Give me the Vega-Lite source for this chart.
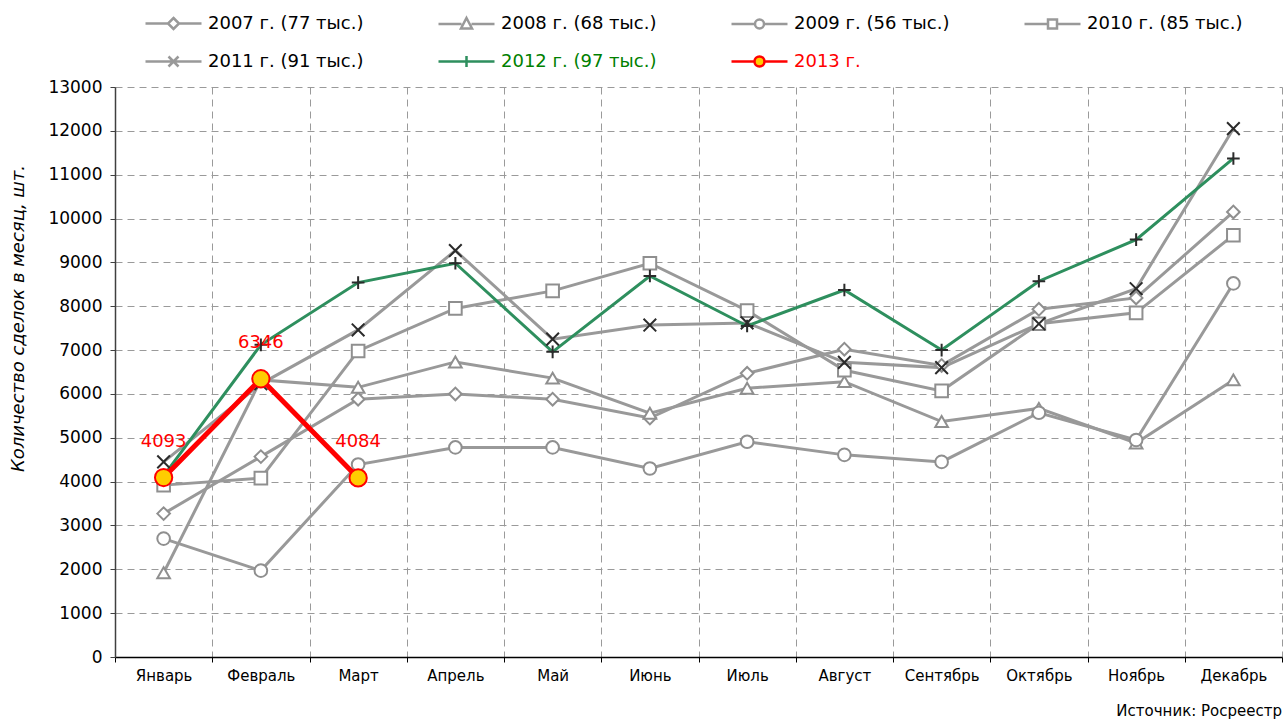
{
  "$schema": "https://vega.github.io/schema/vega-lite/v6.json",
  "width": 1167,
  "height": 570,
  "autosize": {"type": "none"},
  "padding": {"left": 115, "top": 87, "right": 5, "bottom": 63},
  "background": "white",
  "title": {"text": "Источник: Росреестр", "orient": "bottom", "anchor": "end", "frame": "group", "font": "DejaVu Sans", "fontSize": 15, "fontWeight": "normal", "color": "#000000", "offset": 21},
  "config": {"view": {"stroke": null}},
  "data": {"values": [
    {"month": "Январь", "series": "2007 г. (77 тыс.)", "value": 3270},
    {"month": "Февраль", "series": "2007 г. (77 тыс.)", "value": 4570},
    {"month": "Март", "series": "2007 г. (77 тыс.)", "value": 5880},
    {"month": "Апрель", "series": "2007 г. (77 тыс.)", "value": 6000},
    {"month": "Май", "series": "2007 г. (77 тыс.)", "value": 5880},
    {"month": "Июнь", "series": "2007 г. (77 тыс.)", "value": 5450},
    {"month": "Июль", "series": "2007 г. (77 тыс.)", "value": 6470},
    {"month": "Август", "series": "2007 г. (77 тыс.)", "value": 7020},
    {"month": "Сентябрь", "series": "2007 г. (77 тыс.)", "value": 6650},
    {"month": "Октябрь", "series": "2007 г. (77 тыс.)", "value": 7930},
    {"month": "Ноябрь", "series": "2007 г. (77 тыс.)", "value": 8190},
    {"month": "Декабрь", "series": "2007 г. (77 тыс.)", "value": 10150},
    {"month": "Январь", "series": "2008 г. (68 тыс.)", "value": 1920},
    {"month": "Февраль", "series": "2008 г. (68 тыс.)", "value": 6320},
    {"month": "Март", "series": "2008 г. (68 тыс.)", "value": 6150},
    {"month": "Апрель", "series": "2008 г. (68 тыс.)", "value": 6730},
    {"month": "Май", "series": "2008 г. (68 тыс.)", "value": 6360},
    {"month": "Июнь", "series": "2008 г. (68 тыс.)", "value": 5560},
    {"month": "Июль", "series": "2008 г. (68 тыс.)", "value": 6130},
    {"month": "Август", "series": "2008 г. (68 тыс.)", "value": 6280},
    {"month": "Сентябрь", "series": "2008 г. (68 тыс.)", "value": 5370},
    {"month": "Октябрь", "series": "2008 г. (68 тыс.)", "value": 5670},
    {"month": "Ноябрь", "series": "2008 г. (68 тыс.)", "value": 4880},
    {"month": "Декабрь", "series": "2008 г. (68 тыс.)", "value": 6320},
    {"month": "Январь", "series": "2009 г. (56 тыс.)", "value": 2700},
    {"month": "Февраль", "series": "2009 г. (56 тыс.)", "value": 1970},
    {"month": "Март", "series": "2009 г. (56 тыс.)", "value": 4390},
    {"month": "Апрель", "series": "2009 г. (56 тыс.)", "value": 4780},
    {"month": "Май", "series": "2009 г. (56 тыс.)", "value": 4780},
    {"month": "Июнь", "series": "2009 г. (56 тыс.)", "value": 4300},
    {"month": "Июль", "series": "2009 г. (56 тыс.)", "value": 4910},
    {"month": "Август", "series": "2009 г. (56 тыс.)", "value": 4610},
    {"month": "Сентябрь", "series": "2009 г. (56 тыс.)", "value": 4450},
    {"month": "Октябрь", "series": "2009 г. (56 тыс.)", "value": 5570},
    {"month": "Ноябрь", "series": "2009 г. (56 тыс.)", "value": 4950},
    {"month": "Декабрь", "series": "2009 г. (56 тыс.)", "value": 8520},
    {"month": "Январь", "series": "2010 г. (85 тыс.)", "value": 3920},
    {"month": "Февраль", "series": "2010 г. (85 тыс.)", "value": 4080},
    {"month": "Март", "series": "2010 г. (85 тыс.)", "value": 6980},
    {"month": "Апрель", "series": "2010 г. (85 тыс.)", "value": 7950},
    {"month": "Май", "series": "2010 г. (85 тыс.)", "value": 8350},
    {"month": "Июнь", "series": "2010 г. (85 тыс.)", "value": 8980},
    {"month": "Июль", "series": "2010 г. (85 тыс.)", "value": 7900},
    {"month": "Август", "series": "2010 г. (85 тыс.)", "value": 6540},
    {"month": "Сентябрь", "series": "2010 г. (85 тыс.)", "value": 6070},
    {"month": "Октябрь", "series": "2010 г. (85 тыс.)", "value": 7600},
    {"month": "Ноябрь", "series": "2010 г. (85 тыс.)", "value": 7850},
    {"month": "Декабрь", "series": "2010 г. (85 тыс.)", "value": 9620},
    {"month": "Январь", "series": "2011 г. (91 тыс.)", "value": 4450},
    {"month": "Февраль", "series": "2011 г. (91 тыс.)", "value": 6230},
    {"month": "Март", "series": "2011 г. (91 тыс.)", "value": 7460},
    {"month": "Апрель", "series": "2011 г. (91 тыс.)", "value": 9270},
    {"month": "Май", "series": "2011 г. (91 тыс.)", "value": 7250},
    {"month": "Июнь", "series": "2011 г. (91 тыс.)", "value": 7570},
    {"month": "Июль", "series": "2011 г. (91 тыс.)", "value": 7620},
    {"month": "Август", "series": "2011 г. (91 тыс.)", "value": 6720},
    {"month": "Сентябрь", "series": "2011 г. (91 тыс.)", "value": 6600},
    {"month": "Октябрь", "series": "2011 г. (91 тыс.)", "value": 7600},
    {"month": "Ноябрь", "series": "2011 г. (91 тыс.)", "value": 8400},
    {"month": "Декабрь", "series": "2011 г. (91 тыс.)", "value": 12050},
    {"month": "Январь", "series": "2012 г. (97 тыс.)", "value": 4130},
    {"month": "Февраль", "series": "2012 г. (97 тыс.)", "value": 7120},
    {"month": "Март", "series": "2012 г. (97 тыс.)", "value": 8540},
    {"month": "Апрель", "series": "2012 г. (97 тыс.)", "value": 8980},
    {"month": "Май", "series": "2012 г. (97 тыс.)", "value": 6960},
    {"month": "Июнь", "series": "2012 г. (97 тыс.)", "value": 8690},
    {"month": "Июль", "series": "2012 г. (97 тыс.)", "value": 7550},
    {"month": "Август", "series": "2012 г. (97 тыс.)", "value": 8370},
    {"month": "Сентябрь", "series": "2012 г. (97 тыс.)", "value": 7000},
    {"month": "Октябрь", "series": "2012 г. (97 тыс.)", "value": 8570},
    {"month": "Ноябрь", "series": "2012 г. (97 тыс.)", "value": 9520},
    {"month": "Декабрь", "series": "2012 г. (97 тыс.)", "value": 11370},
    {"month": "Январь", "series": "2013 г.", "value": 4093},
    {"month": "Февраль", "series": "2013 г.", "value": 6346},
    {"month": "Март", "series": "2013 г.", "value": 4084}
  ]},
  "encoding": {
    "x": {
      "field": "month", "type": "ordinal",
      "sort": ["Январь", "Февраль", "Март", "Апрель", "Май", "Июнь", "Июль", "Август", "Сентябрь", "Октябрь", "Ноябрь", "Декабрь"],
      "bandPosition": 0.5,
      "scale": {"type": "band", "paddingInner": 0, "paddingOuter": 0},
      "axis": {"title": null, "tickBand": "extent", "labelAngle": 0, "labelFont": "DejaVu Sans", "labelFontSize": 15, "labelColor": "#000000", "domainColor": "#000000", "domainWidth": 1.5, "tickColor": "#000000", "tickSize": 5, "labelPadding": 6, "grid": true, "gridDash": [7, 5], "gridColor": "#9a9a9a", "gridWidth": 1}
    },
    "y": {
      "field": "value", "type": "quantitative",
      "scale": {"domain": [0, 13000], "nice": false},
      "axis": {"values": [0, 1000, 2000, 3000, 4000, 5000, 6000, 7000, 8000, 9000, 10000, 11000, 12000, 13000], "format": "d", "title": "Количество сделок в месяц, шт.", "titleFont": "DejaVu Sans", "titleFontStyle": "italic", "titleFontWeight": "normal", "titleFontSize": 18, "titleColor": "#000000", "titleX": -97, "titleY": 231, "titleAngle": -90, "titleAlign": "center", "titleBaseline": "middle", "labelFont": "DejaVu Sans", "labelFontSize": 17, "labelColor": "#000000", "domainColor": "#404040", "domainWidth": 1.5, "tickColor": "#404040", "tickSize": 5, "labelPadding": 8, "grid": true, "gridDash": [7, 5], "gridColor": "#9a9a9a", "gridWidth": 1}
    }
  },
  "layer": [
    {
      "transform": [{"filter": "datum.series != '2013 г.'"}],
      "mark": {"type": "line", "strokeWidth": 3},
      "encoding": {
        "color": {
          "field": "series", "type": "nominal",
          "scale": {"domain": ["2007 г. (77 тыс.)", "2008 г. (68 тыс.)", "2009 г. (56 тыс.)", "2010 г. (85 тыс.)", "2011 г. (91 тыс.)", "2012 г. (97 тыс.)", "2013 г."], "range": ["#999999", "#999999", "#999999", "#999999", "#999999", "#2e8f5e", "#ff0000"]},
          "legend": {
            "title": null, "orient": "none", "legendX": 47, "legendY": -75, "direction": "horizontal", "columns": 4, "padding": 0,
            "symbolType": "circle", "symbolSize": 400, "labelFont": "DejaVu Sans", "labelFontSize": 18, "labelColor": "#000000", "labelLimit": 400, "labelOffset": 23, "columnPadding": 69, "rowPadding": 16,
            "encode": {
              "symbols": {"update": {
                "shape": {"signal": "['M-2.8,0L-0.55,0M0.55,0L2.8,0M0,-0.55L0.55,0L0,0.55L-0.55,0Z', 'M-2.8,0L-0.5,0M0.5,0L2.8,0M0,-0.6L0.55,0.45L-0.55,0.45Z', 'M-2.8,0L-0.45,0M0.45,0L2.8,0M-0.45,0A0.45,0.45 0 1,0 0.45,0A0.45,0.45 0 1,0 -0.45,0Z', 'M-2.8,0L-0.45,0M0.45,0L2.8,0M-0.45,-0.45L0.45,-0.45L0.45,0.45L-0.45,0.45Z', 'M-2.8,0L2.8,0M-0.5,-0.5L0.5,0.5M-0.5,0.5L0.5,-0.5', 'M-2.8,0L2.8,0M0,-0.55L0,0.55', 'M-2.8,0L-0.5,0M0.5,0L2.8,0M-0.5,0A0.5,0.5 0 1,0 0.5,0A0.5,0.5 0 1,0 -0.5,0Z'][indexof(['2007 г. (77 тыс.)', '2008 г. (68 тыс.)', '2009 г. (56 тыс.)', '2010 г. (85 тыс.)', '2011 г. (91 тыс.)', '2012 г. (97 тыс.)', '2013 г.'], datum.value)]"},
                "fill": {"signal": "datum.value == '2013 г.' ? '#ffcc00' : '#ffffff'"},
                "stroke": {"signal": "datum.value == '2013 г.' ? '#ff0000' : datum.value == '2012 г. (97 тыс.)' ? '#2e8f5e' : '#999999'"},
                "strokeWidth": {"value": 2.5},
                "opacity": {"value": 1}
              }},
              "labels": {"update": {
                "fill": {"signal": "datum.value == '2013 г.' ? '#ff0000' : datum.value == '2012 г. (97 тыс.)' ? '#008000' : '#000000'"}
              }}
            }
          }
        }
      }
    },
    {
      "transform": [{"filter": "datum.series != '2013 г.'"}],
      "mark": {"type": "point", "fill": "#ffffff", "strokeWidth": 2, "opacity": 1, "size": 160},
      "encoding": {
        "shape": {
          "field": "series", "type": "nominal",
          "scale": {"domain": ["2007 г. (77 тыс.)", "2008 г. (68 тыс.)", "2009 г. (56 тыс.)", "2010 г. (85 тыс.)", "2011 г. (91 тыс.)", "2012 г. (97 тыс.)"], "range": ["diamond", "triangle-up", "circle", "square", "M-1,-1L1,1M-1,1L1,-1", "M-1,0L1,0M0,-1L0,1"]},
          "legend": null
        },
        "stroke": {
          "field": "series", "type": "nominal",
          "scale": {"domain": ["2007 г. (77 тыс.)", "2008 г. (68 тыс.)", "2009 г. (56 тыс.)", "2010 г. (85 тыс.)", "2011 г. (91 тыс.)", "2012 г. (97 тыс.)"], "range": ["#8f8f8f", "#8f8f8f", "#8f8f8f", "#8f8f8f", "#2b2b2b", "#2b2b2b"]},
          "legend": null
        }
      }
    },
    {
      "transform": [{"filter": "datum.series == '2013 г.'"}],
      "mark": {"type": "line", "strokeWidth": 5},
      "encoding": {"color": {"field": "series", "type": "nominal"}}
    },
    {
      "transform": [{"filter": "datum.series == '2013 г.'"}],
      "mark": {"type": "point", "shape": "circle", "size": 300, "fill": "#ffcc00", "stroke": "#ff0000", "strokeWidth": 2, "opacity": 1, "filled": true},
      "encoding": {}
    },
    {
      "transform": [{"filter": "datum.series == '2013 г.'"}],
      "mark": {"type": "text", "dy": -36, "font": "DejaVu Sans", "fontSize": 18, "color": "#ff0000"},
      "encoding": {"text": {"field": "value", "type": "quantitative", "format": "d"}}
    }
  ]
}
